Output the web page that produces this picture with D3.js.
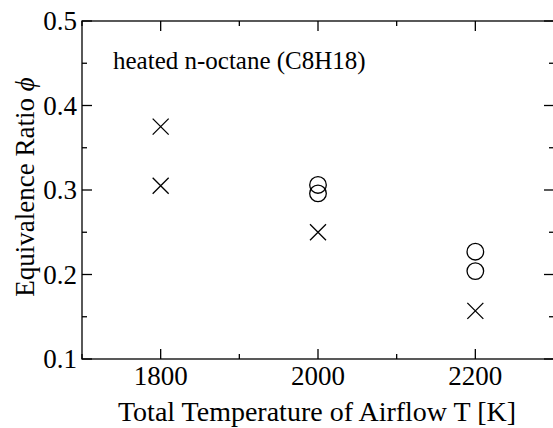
<!DOCTYPE html>
<html>
<head>
<meta charset="utf-8">
<script src="https://cdn.jsdelivr.net/npm/d3@7"></script>
<style>
  body { margin: 0; background: #fff; }
  svg text, svg tspan { font-family: 'Liberation Serif', 'Times New Roman', serif !important; }
</style>
</head>
<body>
<script>
// data
var crossT   = [1800, 1800, 2000, 2200];
var crossPhi = [0.375, 0.305, 0.250, 0.157];
var circT    = [2000, 2000, 2200, 2200];
var circPhi  = [0.306, 0.296, 0.227, 0.204];

var xMajor = [1800, 2000, 2200];
var xMinor = [1700, 1900, 2100, 2300];
var yMajor = [0.1, 0.2, 0.3, 0.4, 0.5];
var yMinor = [0.15, 0.25, 0.35, 0.45];

var W = 553, H = 428;
var pLeft = 82, pRight = 554, pTop = 21, pBottom = 359;
var lw = 1.3;
var fontFam = "'Liberation Serif', 'Times New Roman', serif";

var svg = d3.select("body").append("svg")
    .attr("width", W)
    .attr("height", H)
    .attr("font-family", "Liberation Serif");

var x = d3.scaleLinear().domain([1700, 2300]).range([pLeft, pRight]);
var y = d3.scaleLinear().domain([0.1, 0.5]).range([pBottom, pTop]);

// frame
svg.append("rect")
    .attr("x", pLeft).attr("y", pTop)
    .attr("width", pRight - pLeft).attr("height", pBottom - pTop)
    .attr("fill", "none").attr("stroke", "#000").attr("stroke-width", lw);

var g = svg.append("g").attr("stroke", "#000").attr("stroke-width", lw);

// ticks on all four sides, pointing inward
function xTicks(vals, len) {
    vals.forEach(function(v) {
        g.append("line").attr("x1", x(v)).attr("x2", x(v))
            .attr("y1", pBottom).attr("y2", pBottom - len);
        g.append("line").attr("x1", x(v)).attr("x2", x(v))
            .attr("y1", pTop).attr("y2", pTop + len);
    });
}
function yTicks(vals, len) {
    vals.forEach(function(v) {
        g.append("line").attr("y1", y(v)).attr("y2", y(v))
            .attr("x1", pLeft).attr("x2", pLeft + len);
        g.append("line").attr("y1", y(v)).attr("y2", y(v))
            .attr("x1", pRight).attr("x2", pRight - len);
    });
}
xTicks(xMajor, 10);
xTicks(xMinor, 5);
yTicks(yMajor, 10);
yTicks(yMinor, 5);

function addText(sel) {
    return sel.append("text")
        .style("font-family", fontFam, "important")
        .attr("fill", "#000");
}

// tick labels
xMajor.forEach(function(d) {
    addText(svg)
        .attr("x", x(d))
        .attr("y", pBottom + 26)
        .attr("text-anchor", "middle")
        .attr("font-size", 27)
        .text(d);
});

yMajor.forEach(function(d) {
    addText(svg)
        .attr("x", pLeft - 5)
        .attr("y", y(d))
        .attr("dy", "0.35em")
        .attr("text-anchor", "end")
        .attr("font-size", 27)
        .text(d.toFixed(1));
});

// axis titles
addText(svg)
    .attr("x", (pLeft + pRight) / 2 - 1)
    .attr("y", 421)
    .attr("text-anchor", "middle")
    .attr("font-size", 28)
    .text("Total Temperature of Airflow T [K]");

var yt = addText(svg)
    .attr("transform", "translate(34," + ((pTop + pBottom) / 2 - 3) + ") rotate(-90)")
    .attr("text-anchor", "middle")
    .attr("font-size", 27);
yt.append("tspan").text("Equivalence Ratio ");
yt.append("tspan").attr("font-style", "italic").text("\u03d5");

addText(svg)
    .attr("x", 113)
    .attr("y", 69)
    .attr("font-size", 25)
    .text("heated n-octane (C8H18)");

// markers
var s = 8;
svg.selectAll(".cross").data(d3.range(crossT.length)).enter().append("path")
    .attr("d", function(i) {
        var cx = x(crossT[i]), cy = y(crossPhi[i]);
        return "M" + (cx - s) + "," + (cy - s) + "L" + (cx + s) + "," + (cy + s) +
               "M" + (cx - s) + "," + (cy + s) + "L" + (cx + s) + "," + (cy - s);
    })
    .attr("stroke", "#000").attr("stroke-width", lw).attr("fill", "none");

svg.selectAll(".circ").data(d3.range(circT.length)).enter().append("circle")
    .attr("cx", function(i){ return x(circT[i]); })
    .attr("cy", function(i){ return y(circPhi[i]); })
    .attr("r", 8.3)
    .attr("stroke", "#000").attr("stroke-width", lw).attr("fill", "none");
</script>
</body>
</html>
